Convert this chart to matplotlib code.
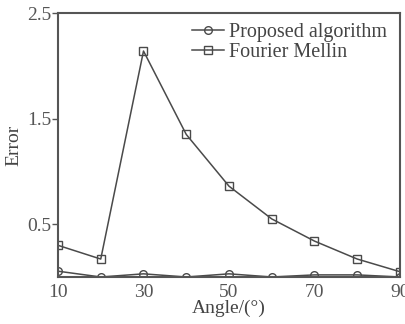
import numpy as np
import matplotlib.pyplot as plt

plt.rcParams['font.family'] = ['Liberation Serif', 'DejaVu Serif']

angles = [10, 20, 30, 40, 50, 60, 70, 80, 90]
proposed = [0.055, 0.0, 0.03, 0.0, 0.03, 0.0, 0.02, 0.02, 0.0]
fourier_mellin = [0.30, 0.17, 2.14, 1.35, 0.86, 0.55, 0.34, 0.17, 0.05]

xticks = [10, 30, 50, 70, 90]
yticks = [0.5, 1.5, 2.5]

fig = plt.figure(figsize=(4.06, 3.24), dpi=100)
ax = fig.add_axes([58 / 406, 1 - 277 / 324, 342 / 406, 264 / 324])

c = '#4a4a4a'
ax.plot(angles, proposed, '-o', color=c, mfc='none', ms=5.5, lw=1.1, label='Proposed algorithm')
ax.plot(angles, fourier_mellin, '-s', color=c, mfc='none', ms=5.5, lw=1.1, label='Fourier Mellin')

ax.set_xlim(10, 90)
ax.set_ylim(0, 2.5)
ax.set_xticks(xticks)
ax.set_yticks(yticks)
ax.tick_params(axis='both', labelsize=14, colors='#555555', length=4, width=1, pad=1)
ax.tick_params(axis='x', length=0, pad=5)
for s in ax.spines.values():
    s.set_color('#555555')
    s.set_linewidth(1.5)

ax.set_xlabel('Angle/(°)', fontsize=14, color='#444444', labelpad=-1)
ax.set_ylabel('Error', fontsize=14, color='#444444', labelpad=3)
ax.legend(loc='upper right', bbox_to_anchor=(0.99, 1.0), frameon=False, fontsize=14.5,
          handlelength=1.6, handletextpad=0.2, labelspacing=0.05, borderaxespad=0.1,
          labelcolor='#444444')

fig.savefig('out.png', dpi=100)
